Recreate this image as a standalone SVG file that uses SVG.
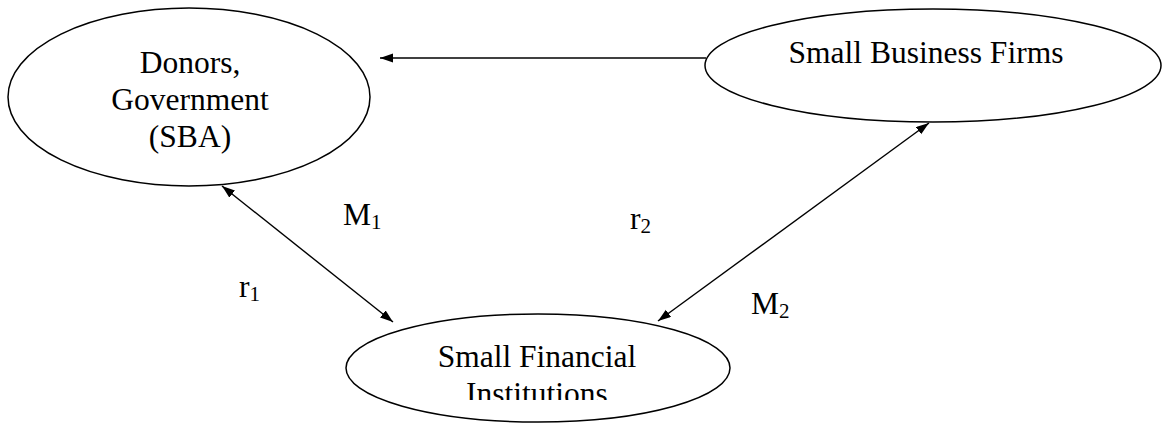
<svg xmlns="http://www.w3.org/2000/svg" width="1163" height="423" viewBox="0 0 1163 423">
<style>
.node{fill:#fff;stroke:#000;stroke-width:1.5}
.t{font-family:"Liberation Serif","Times New Roman",serif;font-size:31.5px;fill:#000}
.c{stroke:#000;stroke-width:1.4;fill:none}
</style>
<defs>
<marker id="ah" markerUnits="userSpaceOnUse" markerWidth="14" markerHeight="10" refX="13" refY="4.5" orient="auto-start-reverse">
<path d="M0,0 L13,4.5 L0,9 z" fill="#000"/>
</marker>
<clipPath id="clipFin"><rect x="340" y="320" width="400" height="80"/></clipPath>
</defs>
<rect width="1163" height="423" fill="#fff"/>
<g id="donors">
<ellipse class="node" cx="189" cy="97" rx="181" ry="89"/>
<text class="t" text-anchor="middle" x="190" y="73">Donors,</text>
<text class="t" text-anchor="middle" x="190" y="110">Government</text>
<text class="t" text-anchor="middle" x="190" y="147">(SBA)</text>
</g>
<g id="business">
<ellipse class="node" cx="933" cy="65.5" rx="228" ry="56.5"/>
<text class="t" text-anchor="middle" x="926" y="63">Small Business Firms</text>
</g>
<g id="financial">
<ellipse class="node" cx="538" cy="368" rx="192" ry="54"/>
<g clip-path="url(#clipFin)">
<text class="t" text-anchor="middle" x="537" y="367">Small Financial</text>
<text class="t" text-anchor="middle" x="537" y="404">Institutions</text>
</g>
</g>
<g id="connectors">
<line class="c" x1="706" y1="58" x2="380" y2="58" marker-end="url(#ah)"/>
<line class="c" x1="222" y1="186" x2="393" y2="322" marker-start="url(#ah)" marker-end="url(#ah)"/>
<line class="c" x1="658" y1="321" x2="929" y2="123" marker-start="url(#ah)" marker-end="url(#ah)"/>
</g>
<g id="labels">
<text class="t" x="343" y="225">M<tspan font-size="21" dy="4">1</tspan></text>
<text class="t" x="239" y="297">r<tspan font-size="21" dy="4">1</tspan></text>
<text class="t" x="630" y="229">r<tspan font-size="21" dy="4">2</tspan></text>
<text class="t" x="751" y="314">M<tspan font-size="21" dy="4">2</tspan></text>
</g>
</svg>
